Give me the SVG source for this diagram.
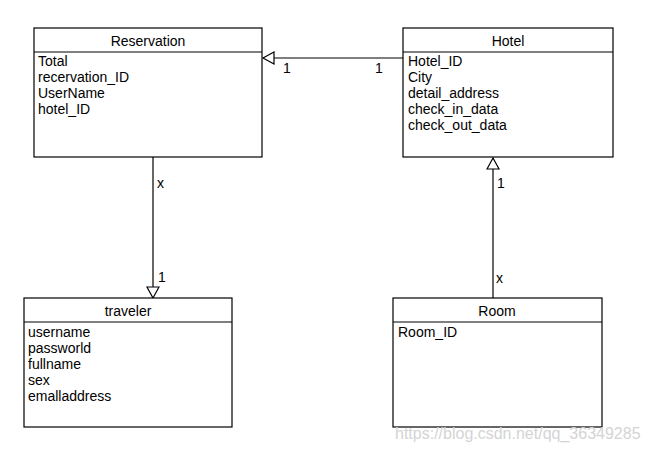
<svg xmlns="http://www.w3.org/2000/svg" width="668" height="455" viewBox="0 0 668 455">
<style>
.box{fill:#fff;stroke:#000;stroke-width:1.2}
.div{stroke:#000;stroke-width:1.2}
text{font-family:"Liberation Sans",Arial,sans-serif;font-size:14px;fill:#000}
.h{text-anchor:middle}
.ln{stroke:#000;stroke-width:1.2;fill:none}
.wm{fill:#d4d4d4;font-size:16px}
</style>
<defs>
<marker id="tri" markerWidth="14" markerHeight="16" refX="12" refY="7" orient="auto" markerUnits="userSpaceOnUse">
<path d="M1,1 L12,7 L1,13 Z" fill="#fff" stroke="#000" stroke-width="1.2"/>
</marker>
</defs>
<rect width="668" height="455" fill="#fff"/>
<g id="connectors">
<line class="ln" x1="403" y1="58" x2="263" y2="58" marker-end="url(#tri)"/>
<line class="ln" x1="153" y1="157" x2="153" y2="298" marker-end="url(#tri)"/>
<line class="ln" x1="493" y1="298" x2="493" y2="158" marker-end="url(#tri)"/>
<text x="283" y="73">1</text>
<text x="375" y="73">1</text>
<text x="157" y="188">x</text>
<text x="158" y="282">1</text>
<text x="497" y="188">1</text>
<text x="496" y="283">x</text>
</g>
<g id="reservation">
<rect class="box" x="34" y="28" width="228" height="129"/>
<line class="div" x1="34" y1="52" x2="262" y2="52"/>
<text class="h" x="148" y="46">Reservation</text>
<text x="38" y="66">Total</text>
<text x="38" y="82">recervation_ID</text>
<text x="38" y="98">UserName</text>
<text x="38" y="114">hotel_ID</text>
</g>
<g id="hotel">
<rect class="box" x="403" y="28" width="210" height="129"/>
<line class="div" x1="403" y1="52" x2="613" y2="52"/>
<text class="h" x="508" y="46">Hotel</text>
<text x="408" y="66">Hotel_ID</text>
<text x="408" y="82">City</text>
<text x="408" y="98">detail_address</text>
<text x="408" y="114">check_in_data</text>
<text x="408" y="130">check_out_data</text>
</g>
<g id="traveler">
<rect class="box" x="24" y="298" width="208" height="129"/>
<line class="div" x1="24" y1="322" x2="232" y2="322"/>
<text class="h" x="128" y="316">traveler</text>
<text x="28" y="337">username</text>
<text x="28" y="353">passworld</text>
<text x="28" y="369">fullname</text>
<text x="28" y="385">sex</text>
<text x="28" y="401">emalladdress</text>
</g>
<g id="room">
<rect class="box" x="393" y="298" width="209" height="129"/>
<line class="div" x1="393" y1="322" x2="602" y2="322"/>
<text class="h" x="497" y="316">Room</text>
<text x="398" y="337">Room_ID</text>
</g>
<text class="wm" x="395" y="439">https://blog.csdn.net/qq_36349285</text>
</svg>
